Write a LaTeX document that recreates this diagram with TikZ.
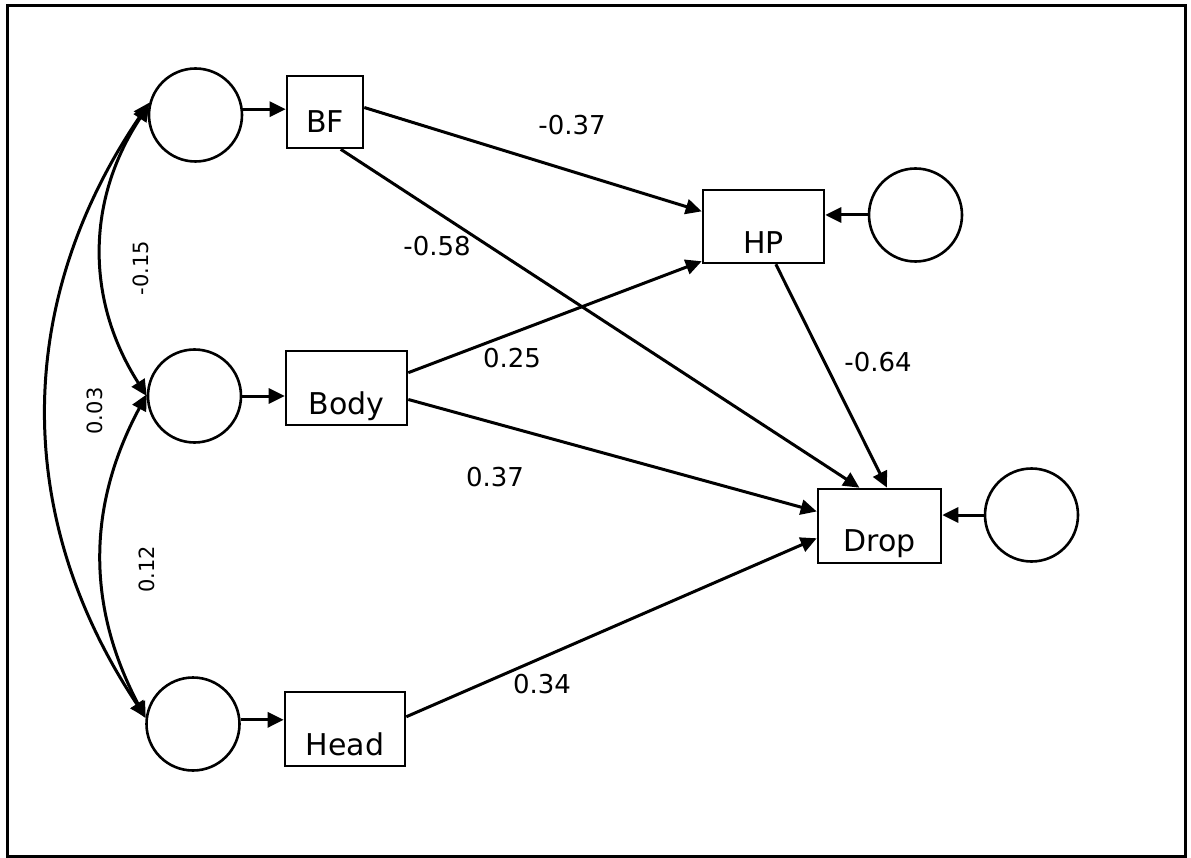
\documentclass[tikz,border=0pt]{standalone}
\usepackage{fontspec}
\setmainfont{DejaVu Sans}
\usetikzlibrary{arrows.meta,calc}
\begin{document}
\begin{tikzpicture}[x=1pt,y=-1pt,
  latent/.style={circle,draw,line width=2.6pt,minimum size=93pt,inner sep=0pt},
  obs/.style={draw,line width=2.6pt,inner sep=0pt,font=\fontsize{30}{35}\selectfont},
  pathline/.style={line width=3pt,-{Triangle[length=16pt,width=15pt]}},
  covline/.style={line width=3pt,{Triangle[length=16pt,width=15pt]}-{Triangle[length=16pt,width=15pt]}},
  coef/.style={font=\fontsize{26}{30}\selectfont,inner sep=0pt},
  covlab/.style={font=\fontsize{21}{24}\selectfont,inner sep=0pt,rotate=90}]

\useasboundingbox (0,0) rectangle (1191,858);
\draw[line width=3pt] (7.5,6) rectangle (1185,856);

% latent variables (error terms)
\node[latent] (c1) at (195.5,115) {};
\node[latent] (c2) at (194.5,396) {};
\node[latent] (c3) at (193,724) {};
\node[latent] (ehp) at (915.5,215) {};
\node[latent] (edrop) at (1031.5,515) {};

% observed variables
\node[obs,minimum width=76pt,minimum height=72pt,text depth=15pt,text height=57pt] (bf) at (325,112) {BF};
\node[obs,minimum width=121pt,minimum height=74pt,text depth=11pt,text height=63pt] (body) at (346.5,388) {Body};
\node[obs,minimum width=120pt,minimum height=74pt,text depth=11pt,text height=63pt] (head) at (345,729) {Head};
\node[obs,minimum width=121pt,minimum height=73pt,text depth=9pt,text height=64pt] (hp) at (763.5,226.5) {HP};
\node[obs,minimum width=123pt,minimum height=74pt,text depth=12pt,text height=62pt] (drop) at (879.5,526) {Drop};

% error terms into observed variables
\draw[pathline] (c1.7) -- (c1.7 -| bf.west);
\draw[pathline] (c2.east) -- (c2.east -| body.west);
\draw[pathline] (c3.5) -- (c3.5 -| head.west);
\draw[pathline] (ehp.west) -- (ehp.west -| hp.east);
\draw[pathline] (edrop.west) -- (edrop.west -| drop.east);

% structural paths
\draw[pathline] ($(bf.north east)!0.44!(bf.south east)$) -- ($(hp.north west)!0.3!(hp.south west)$);
\draw[pathline] ($(bf.south west)!0.7!(bf.south east)$) -- ($(drop.north west)!0.34!(drop.north east)$);
\draw[pathline] ($(body.north east)!0.3!(body.south east)$) -- ($(hp.north west)!0.96!(hp.south west)$);
\draw[pathline] ($(body.north east)!0.65!(body.south east)$) -- ($(drop.north west)!0.31!(drop.south west)$);
\draw[pathline] ($(head.north east)!0.34!(head.south east)$) -- ($(drop.north west)!0.66!(drop.south west)$);
\draw[pathline] ($(hp.south west)!0.6!(hp.south east)$) -- ($(drop.north west)!0.56!(drop.north east)$);

% covariances among the exogenous terms
\draw[covline] (c1.168) to[bend right=33] (c2.180);
\draw[covline] (c2.178) to[bend right=28] (c3.173);
\draw[covline] (c1.165) to[bend right=34] (c3.172);

% coefficients
\node[coef] at (572,125) {-0.37};
\node[coef] at (437,246) {-0.58};
\node[coef] at (512,358) {0.25};
\node[coef] at (495,477) {0.37};
\node[coef] at (878,362) {-0.64};
\node[coef] at (542,684) {0.34};
\node[covlab] at (141,268) {-0.15};
\node[covlab] at (94.5,411) {0.03};
\node[covlab] at (146.5,569.5) {0.12};
\end{tikzpicture}
\end{document}
